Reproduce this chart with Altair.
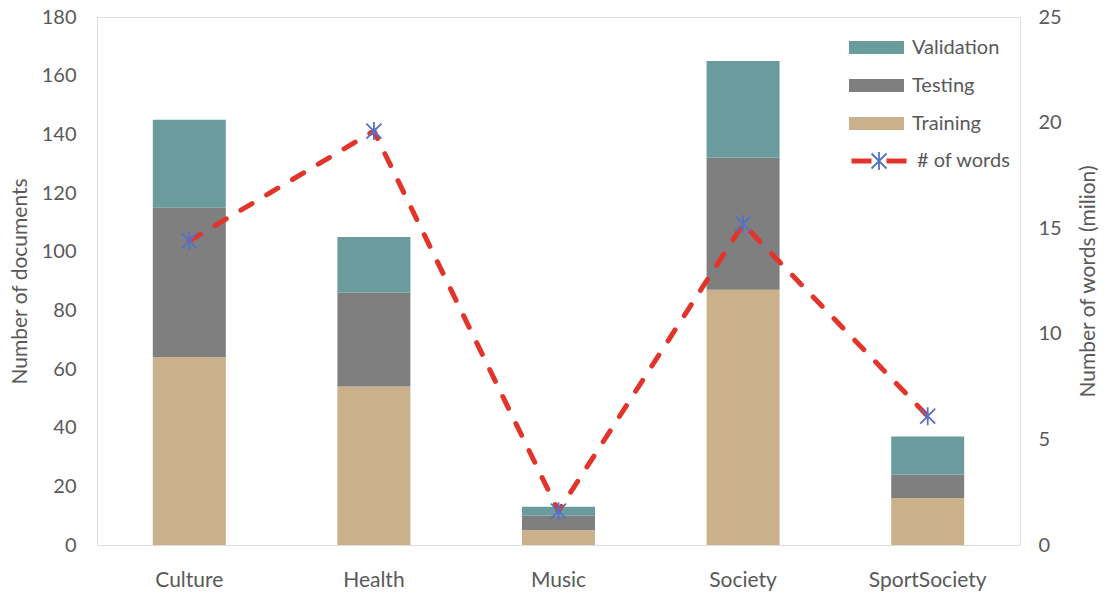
import altair as alt
import pandas as pd

categories = ["Culture", "Health", "Music", "Society", "SportSociety"]
training = [64, 54, 5, 87, 16]
testing = [51, 32, 5, 45, 8]
validation = [30, 19, 3, 33, 13]
words = [14.4, 19.6, 1.6, 15.2, 6.1]

legend_order = ["Validation", "Testing", "Training"]
split_colors = ["#6a9c9d", "#7f7f7f", "#cbb18b"]
line_color = "#e3342b"
marker_color = "#5272c9"
text_color = "#595959"
FONT = "Lato"

rows = []
for i, c in enumerate(categories):
    for k, (name, vals) in enumerate([("Training", training), ("Testing", testing), ("Validation", validation)]):
        rows.append({"category": c, "split": name, "docs": vals[i], "stack_order": k})
bars_df = pd.DataFrame(rows)
words_df = pd.DataFrame({"category": categories, "words": words,
                         "series": ["# of words"] * len(categories),
                         "marker": ["# of words"] * len(categories)})

x_enc = alt.X("category:N", sort=categories,
              scale=alt.Scale(paddingInner=0, paddingOuter=0),
              axis=alt.Axis(title=None, labelAngle=0, domain=False, ticks=False,
                            labelPadding=24, labelFontSize=21, labelColor=text_color, labelFont=FONT))

bars = alt.Chart(bars_df).mark_bar(size=73).encode(
    x=x_enc,
    y=alt.Y("docs:Q", stack="zero",
            scale=alt.Scale(domain=[0, 180], nice=False, zero=True),
            axis=alt.Axis(values=list(range(0, 181, 20)), title="Number of documents",
                          grid=False, ticks=False, domain=False, labelPadding=21,
                          labelFontSize=20, labelColor=text_color, labelFont=FONT,
                          titleFontSize=21, titleFont=FONT, titleColor=text_color,
                          titleFontWeight="normal", titlePadding=11)),
    color=alt.Color("split:N",
                    scale=alt.Scale(domain=legend_order, range=split_colors),
                    legend=alt.Legend(title=None, orient="none", legendX=752, legendY=3,
                                      symbolType="M-1,-0.24H1V0.24H-1Z", symbolSize=3025,
                                      symbolStrokeWidth=0, symbolOpacity=1,
                                      labelFontSize=20, labelFont=FONT, labelColor=text_color,
                                      labelOffset=8, rowPadding=0, padding=0)),
    order=alt.Order("stack_order:Q", sort="ascending"),
)

right_axis = alt.Axis(values=[0, 5, 10, 15, 20, 25], title="Number of words (milion)",
                      orient="right", grid=False, ticks=False, domain=False, labelPadding=18,
                      labelFontSize=20, labelColor=text_color, labelFont=FONT,
                      titleFontSize=21, titleFont=FONT, titleColor=text_color,
                      titleFontWeight="normal", titlePadding=37, titleAngle=270)

line = alt.Chart(words_df).mark_line(strokeWidth=5, strokeDash=[13, 17], strokeCap="round").encode(
    x=x_enc,
    y=alt.Y("words:Q", scale=alt.Scale(domain=[0, 25], nice=False), axis=right_axis),
    stroke=alt.Stroke("series:N", scale=alt.Scale(range=[line_color]),
                      legend=alt.Legend(title=None, orient="none", legendX=752, legendY=114,
                                        symbolType="stroke", symbolSize=3025,
                                        symbolDash=[20, 15], symbolStrokeWidth=5,
                                        symbolStrokeColor=line_color,
                                        labelFontSize=20, labelFont=FONT, labelColor=text_color,
                                        labelOffset=8, padding=0)),
)

ASTERISK = "M-1,-1L1,1M-1,1L1,-1M0,-1.2L0,1.2"
points = alt.Chart(words_df).mark_point(filled=False, size=225, strokeWidth=1.8,
                                        color=marker_color, opacity=1).encode(
    x=x_enc,
    y=alt.Y("words:Q", scale=alt.Scale(domain=[0, 25], nice=False), axis=right_axis),
    shape=alt.Shape("marker:N", scale=alt.Scale(range=[ASTERISK]),
                    legend=alt.Legend(title=None, orient="none", legendX=772, legendY=134,
                                      symbolSize=225, symbolStrokeColor=marker_color,
                                      symbolStrokeWidth=1.8, labelExpr="''",
                                      labelFontSize=20, labelFont=FONT,
                                      labelOffset=8, padding=0)),
)

words_layer = alt.layer(line, points)

chart = alt.layer(bars, words_layer).resolve_scale(
    y="independent", color="independent", stroke="independent", shape="independent"
).properties(
    width=923, height=528,
    autosize=alt.AutoSizeParams(type="none"),
    padding={"left": 97, "top": 17, "right": 86, "bottom": 52},
    background="white",
).configure_view(
    stroke="#c4c4c4", strokeWidth=1.5
).configure(font=FONT)

chart.save("out.html", embed_options={"renderer": "svg", "actions": False})
